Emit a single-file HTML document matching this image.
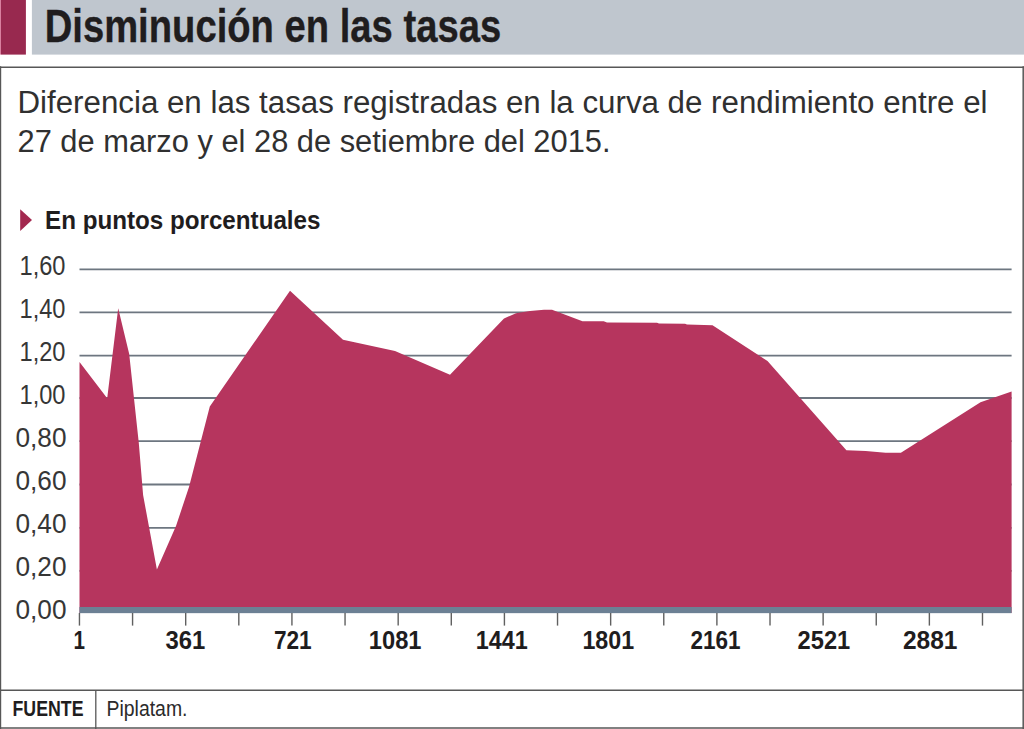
<!DOCTYPE html>
<html><head><meta charset="utf-8">
<style>
html,body{margin:0;padding:0;background:#fff;}
body{width:1024px;height:729px;overflow:hidden;}
svg{display:block;}
text{font-family:"Liberation Sans",sans-serif;}
</style></head>
<body>
<svg width="1024" height="729" viewBox="0 0 1024 729">
<rect x="0" y="0" width="1024" height="729" fill="#ffffff"/>
<rect x="0" y="0" width="1" height="54.6" fill="#d9809f"/>
<rect x="1" y="0" width="24.9" height="54.6" fill="#98294f"/>
<rect x="31.9" y="0" width="992.1" height="54.6" fill="#bfc6ce"/>
<text x="44.7" y="42.3" font-size="46" font-weight="bold" fill="#1f1d1e" stroke="#1f1d1e" stroke-width="0.35" textLength="456.5" lengthAdjust="spacingAndGlyphs">Disminución en las tasas</text>
<g stroke="#575757" stroke-width="1.5">
<line x1="0" x2="1024" y1="67.2" y2="67.2"/>
<line x1="0.6" x2="0.6" y1="66.35" y2="729" stroke-width="1.2"/>
<line x1="1023.2" x2="1023.2" y1="66.35" y2="729"/>
<line x1="0" x2="1024" y1="690.25" y2="690.25"/>
<line x1="0" x2="1024" y1="728.1" y2="728.1"/>
<line x1="95.8" x2="95.8" y1="690.1" y2="729" stroke-width="1.3"/>
</g>
<text x="17.5" y="113" font-size="31" fill="#303030" textLength="970" lengthAdjust="spacingAndGlyphs">Diferencia en las tasas registradas en la curva de rendimiento entre el</text>
<text x="17.5" y="151.6" font-size="31" fill="#303030" textLength="593" lengthAdjust="spacingAndGlyphs">27 de marzo y el 28 de setiembre del 2015.</text>
<polygon points="20.2,209.3 32,220.1 20.2,230.9" fill="#a3284f"/>
<text x="45" y="229.4" font-size="26.5" font-weight="bold" fill="#1f1d1e" textLength="275.5" lengthAdjust="spacingAndGlyphs">En puntos porcentuales</text>
<g stroke="#6d7680" stroke-width="1.8">
<line x1="79.5" x2="1011.6" y1="269.30" y2="269.30" />
<line x1="79.5" x2="1011.6" y1="312.40" y2="312.40" />
<line x1="79.5" x2="1011.6" y1="355.70" y2="355.70" />
<line x1="79.5" x2="1011.6" y1="398.00" y2="398.00" />
<line x1="79.5" x2="1011.6" y1="441.10" y2="441.10" />
<line x1="79.5" x2="1011.6" y1="484.50" y2="484.50" />
<line x1="79.5" x2="1011.6" y1="527.80" y2="527.80" />
<line x1="79.5" x2="1011.6" y1="570.90" y2="570.90" />
</g>
<polygon points="79.5,362.1 107.2,398.3 118.2,308.2 129.2,354.0 138.8,443.0 143.1,495.0 156.9,569.6 176.0,526.0 189.0,487.0 209.8,406.5 290.0,290.7 343.0,339.7 395.0,351.0 450.0,374.7 504.0,318.4 516.0,313.2 530.0,311.0 544.0,309.8 552.0,309.8 582.5,321.2 603.7,321.2 607.0,322.5 657.0,322.8 659.0,323.6 685.0,323.8 687.0,324.5 712.5,325.2 767.5,361.1 846.4,450.2 865.7,451.0 885.6,452.8 900.9,452.8 980.5,402.3 1011.6,391.5 1011.6,613.0 79.5,613.0" fill="#b6355e"/>
<rect x="79.45" y="607" width="932.15" height="6.15" fill="#6c8094"/>
<g stroke="#606060" stroke-width="1.4">
<line x1="79.45" x2="79.45" y1="613" y2="625.6" />
<line x1="132.57" x2="132.57" y1="613" y2="625.6" />
<line x1="185.69" x2="185.69" y1="613" y2="625.6" />
<line x1="238.81" x2="238.81" y1="613" y2="625.6" />
<line x1="291.93" x2="291.93" y1="613" y2="625.6" />
<line x1="345.05" x2="345.05" y1="613" y2="625.6" />
<line x1="398.17" x2="398.17" y1="613" y2="625.6" />
<line x1="451.29" x2="451.29" y1="613" y2="625.6" />
<line x1="504.41" x2="504.41" y1="613" y2="625.6" />
<line x1="557.53" x2="557.53" y1="613" y2="625.6" />
<line x1="610.65" x2="610.65" y1="613" y2="625.6" />
<line x1="663.77" x2="663.77" y1="613" y2="625.6" />
<line x1="716.89" x2="716.89" y1="613" y2="625.6" />
<line x1="770.01" x2="770.01" y1="613" y2="625.6" />
<line x1="823.13" x2="823.13" y1="613" y2="625.6" />
<line x1="876.25" x2="876.25" y1="613" y2="625.6" />
<line x1="929.37" x2="929.37" y1="613" y2="625.6" />
<line x1="982.49" x2="982.49" y1="613" y2="625.6" />
</g>
<g font-size="27" fill="#363636">
<text x="19.50" y="274.80" textLength="46.00" lengthAdjust="spacingAndGlyphs">1,60</text>
<text x="19.50" y="317.83" textLength="46.00" lengthAdjust="spacingAndGlyphs">1,40</text>
<text x="19.50" y="360.86" textLength="46.00" lengthAdjust="spacingAndGlyphs">1,20</text>
<text x="19.50" y="403.89" textLength="46.00" lengthAdjust="spacingAndGlyphs">1,00</text>
<text x="15.50" y="446.92" textLength="51.00" lengthAdjust="spacingAndGlyphs">0,80</text>
<text x="15.50" y="489.95" textLength="51.00" lengthAdjust="spacingAndGlyphs">0,60</text>
<text x="15.50" y="532.98" textLength="51.00" lengthAdjust="spacingAndGlyphs">0,40</text>
<text x="15.50" y="576.01" textLength="51.00" lengthAdjust="spacingAndGlyphs">0,20</text>
<text x="15.50" y="619.04" textLength="51.00" lengthAdjust="spacingAndGlyphs">0,00</text>
</g>
<g font-size="26.5" font-weight="bold" fill="#1f1d1e">
<text x="73.60" y="649.1" textLength="11.50" lengthAdjust="spacingAndGlyphs">1</text>
<text x="165.40" y="649.1" textLength="39.80" lengthAdjust="spacingAndGlyphs">361</text>
<text x="273.90" y="649.1" textLength="37.80" lengthAdjust="spacingAndGlyphs">721</text>
<text x="368.80" y="649.1" textLength="52.70" lengthAdjust="spacingAndGlyphs">1081</text>
<text x="475.70" y="649.1" textLength="52.10" lengthAdjust="spacingAndGlyphs">1441</text>
<text x="582.40" y="649.1" textLength="51.70" lengthAdjust="spacingAndGlyphs">1801</text>
<text x="690.40" y="649.1" textLength="50.10" lengthAdjust="spacingAndGlyphs">2161</text>
<text x="797.60" y="649.1" textLength="52.70" lengthAdjust="spacingAndGlyphs">2521</text>
<text x="903.00" y="649.1" textLength="54.50" lengthAdjust="spacingAndGlyphs">2881</text>
</g>
<text x="12.5" y="716.2" font-size="22" font-weight="bold" fill="#1f1d1e" textLength="71" lengthAdjust="spacingAndGlyphs">FUENTE</text>
<text x="106.5" y="716.2" font-size="22" fill="#2b2a2b" textLength="81" lengthAdjust="spacingAndGlyphs">Piplatam.</text>
</svg>
</body></html>
